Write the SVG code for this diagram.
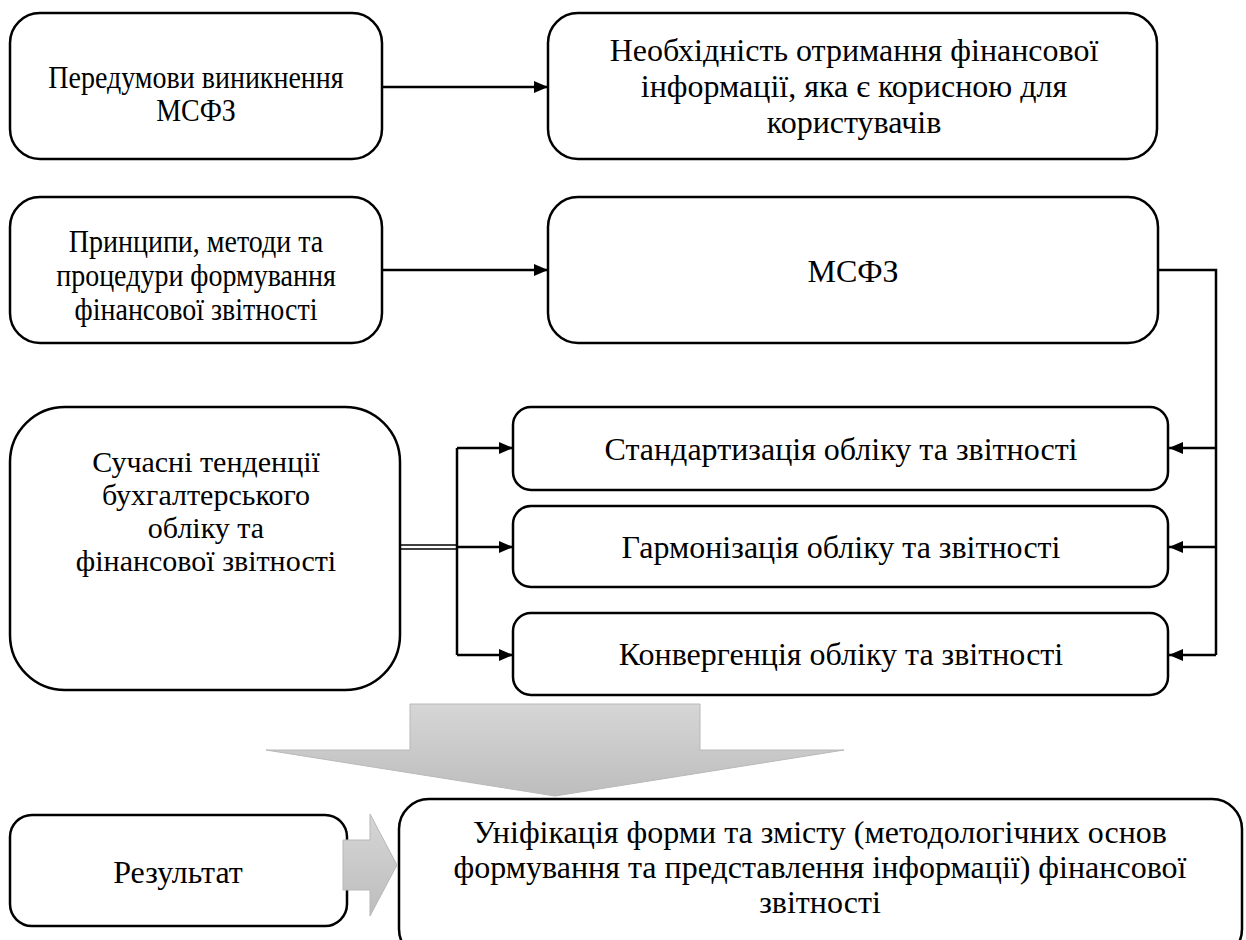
<svg xmlns="http://www.w3.org/2000/svg" width="1246" height="940" viewBox="0 0 1246 940">
<style>
.box{fill:#fff;stroke:#000;stroke-width:2.5}
.t{font-family:"Liberation Serif","Times New Roman",serif;font-size:32px;fill:#000;text-anchor:middle}
.t5{font-size:30px}
.c{fill:none;stroke:#000;stroke-width:2.5}
.c2{fill:none;stroke:#000;stroke-width:1.6}
.gr{stroke:#b8b8b8;stroke-width:1}
</style>
<defs>
<marker id="ah" viewBox="0 0 14 12" refX="14" refY="6" markerWidth="14" markerHeight="12" markerUnits="userSpaceOnUse" orient="auto">
<path d="M0,0 L14,6 L0,12 Z" fill="#000"/>
</marker>
<linearGradient id="g1" x1="0" y1="0" x2="0" y2="1">
<stop offset="0" stop-color="#d6d6d6"/>
<stop offset="1" stop-color="#bdbdbd"/>
</linearGradient>
</defs>

<g id="n1">
<rect class="box" x="10" y="13" width="372" height="146" rx="30"/>
<g transform="translate(196,0) scale(0.875,1)">
<text class="t" x="0" y="88">Передумови виникнення</text>
<text class="t" x="0" y="121">МСФЗ</text>
</g>
</g>
<g id="n2">
<rect class="box" x="548" y="13" width="609" height="146" rx="30"/>
<text class="t" x="854" y="61">Необхідність отримання фінансової</text>
<text class="t" x="854" y="97">інформації, яка є корисною для</text>
<text class="t" x="854" y="133">користувачів</text>
</g>
<g id="n3">
<rect class="box" x="10" y="197" width="372" height="146" rx="30"/>
<g transform="translate(196,0) scale(0.875,1)">
<text class="t" x="0" y="252">Принципи, методи та</text>
<text class="t" x="0" y="286">процедури формування</text>
<text class="t" x="0" y="320">фінансової звітності</text>
</g>
</g>
<g id="n4">
<rect class="box" x="548" y="197" width="610" height="146" rx="30"/>
<text class="t" x="853" y="282">МСФЗ</text>
</g>
<g id="n5">
<rect class="box" x="10" y="407" width="390" height="283" rx="55"/>
<text class="t t5" x="206" y="472">Сучасні тенденції</text>
<text class="t t5" x="206" y="505">бухгалтерського</text>
<text class="t t5" x="206" y="538">обліку та</text>
<text class="t t5" x="206" y="571">фінансової звітності</text>
</g>
<g id="n6">
<rect class="box" x="513" y="407" width="655" height="83" rx="18"/>
<text class="t" x="841" y="460">Стандартизація обліку та звітності</text>
</g>
<g id="n7">
<rect class="box" x="513" y="506" width="655" height="81" rx="18"/>
<text class="t" x="841" y="558">Гармонізація обліку та звітності</text>
</g>
<g id="n8">
<rect class="box" x="513" y="613" width="655" height="82" rx="18"/>
<text class="t" x="841" y="665">Конвергенція обліку та звітності</text>
</g>
<g id="n9">
<rect class="box" x="10" y="815" width="337" height="111" rx="22"/>
<text class="t" x="178" y="883">Результат</text>
</g>
<g id="n10">
<rect class="box" x="399" y="799" width="843" height="160" rx="30"/>
<text class="t" x="820" y="843">Уніфікація форми та змісту (методологічних основ</text>
<text class="t" x="820" y="878">формування та представлення інформації) фінансової</text>
<text class="t" x="820" y="913">звітності</text>
</g>

<g id="connectors">
<line class="c" x1="382" y1="87" x2="548" y2="87" marker-end="url(#ah)"/>
<line class="c" x1="382" y1="270" x2="548" y2="270" marker-end="url(#ah)"/>
<polyline class="c" points="1158,270 1216,270 1216,655"/>
<line class="c" x1="1216" y1="448" x2="1169" y2="448" marker-end="url(#ah)"/>
<line class="c" x1="1216" y1="547" x2="1169" y2="547" marker-end="url(#ah)"/>
<line class="c" x1="1216" y1="655" x2="1169" y2="655" marker-end="url(#ah)"/>
<line class="c2" x1="400" y1="545" x2="457" y2="545"/>
<line class="c2" x1="400" y1="549" x2="457" y2="549"/>
<line class="c" x1="457" y1="448" x2="457" y2="655"/>
<line class="c" x1="457" y1="448" x2="513" y2="448" marker-end="url(#ah)"/>
<line class="c" x1="457" y1="547" x2="513" y2="547" marker-end="url(#ah)"/>
<line class="c" x1="457" y1="655" x2="513" y2="655" marker-end="url(#ah)"/>
<polygon class="gr" fill="url(#g1)" points="410,704 700,704 700,750 844,750 555,796 266,750 410,750"/>
<polygon class="gr" fill="url(#g1)" points="343,840 370,840 370,814 397,865 370,916 370,890 343,890"/>
</g>
</svg>
